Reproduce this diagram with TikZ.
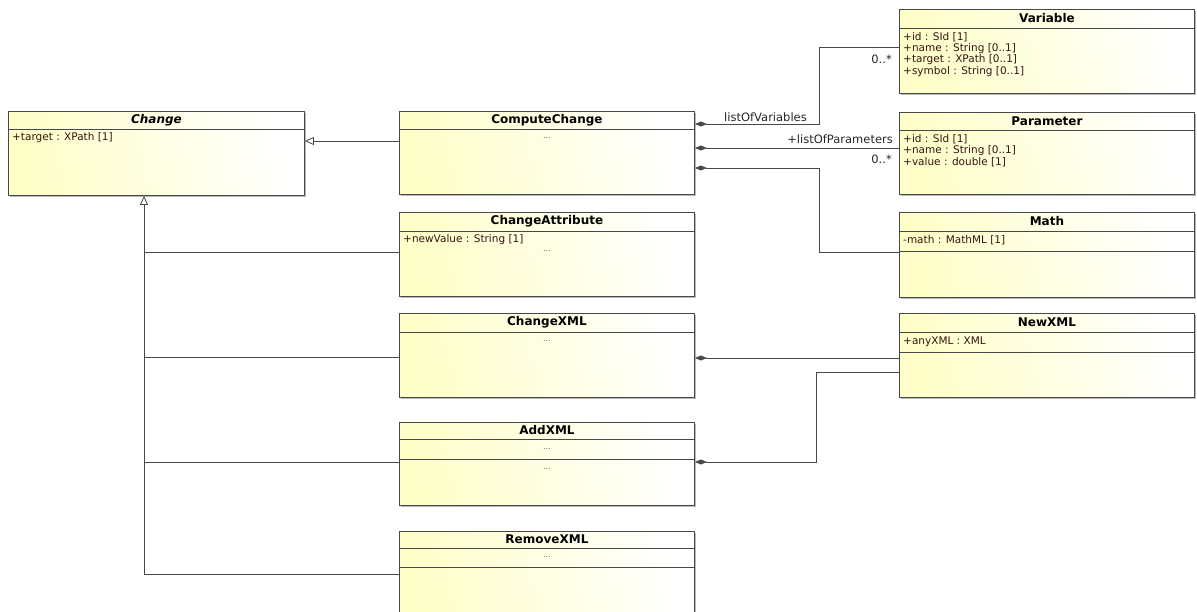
\documentclass[tikz,border=0pt]{standalone}
\usepackage{fontspec}
\setmainfont{DejaVu Sans}
\usetikzlibrary{arrows.meta,shadows,calc}
\definecolor{boxfill}{RGB}{254,254,200}
\definecolor{edgecol}{RGB}{72,72,72}
\definecolor{attrcol}{RGB}{55,20,20}
\tikzset{
  umlbox/.style={draw=edgecol, line width=0.9pt, rectangle, inner sep=0pt, anchor=north west,
    left color=boxfill, right color=white, shading angle=105,
    drop shadow={shadow xshift=2pt, shadow yshift=-2pt, fill=black!50, opacity=0.55}},
  sepline/.style={draw=edgecol, line width=0.8pt},
  titletext/.style={font=\fontsize{12}{13}\selectfont\bfseries, inner sep=0pt},
  attrtext/.style={font=\fontsize{10.5}{11}\selectfont, text=attrcol, anchor=west, inner sep=0pt},
  dotstext/.style={font=\fontsize{8}{8}\selectfont, text=black!60, inner sep=0pt},
  roletext/.style={font=\fontsize{11.5}{12}\selectfont, text=black!85, inner sep=0pt},
  conn/.style={draw=edgecol, line width=0.8pt},
  comp/.style={conn, {Diamond[length=12pt,width=5pt,fill=edgecol]}-},
  gen/.style={conn, -{Triangle[open,length=9pt,width=8pt,fill=white]}}
}
\begin{document}
\begin{tikzpicture}[x=1pt,y=-1pt]
\useasboundingbox (0,0) rectangle (1197,612);
\clip (0,0) rectangle (1197,612);

% ---------- boxes ----------
% Change
\node[umlbox, minimum width=296pt, minimum height=84pt] (chg) at (8,111) {};
\draw[sepline] ($(chg.north west)+(0,18)$) -- ($(chg.north east)+(0,18)$);
\node[titletext, font=\fontsize{12}{13}\selectfont\bfseries\itshape] (chgt) at ($(chg.north)+(0,9)$) {Change};
\node[attrtext] (chga1) at ($(chg.north west)+(4,27)$) {+target : XPath [1]};

% ComputeChange
\node[umlbox, minimum width=295pt, minimum height=83pt] (cc) at (399,111) {};
\draw[sepline] ($(cc.north west)+(0,18)$) -- ($(cc.north east)+(0,18)$);
\node[titletext] (cct) at ($(cc.north)+(0,9)$) {ComputeChange};
\node[dotstext] (ccd) at ($(cc.north)+(0,27)$) {...};

% ChangeAttribute
\node[umlbox, minimum width=295pt, minimum height=84pt] (ca) at (399,212) {};
\draw[sepline] ($(ca.north west)+(0,19)$) -- ($(ca.north east)+(0,19)$);
\node[titletext] (cat) at ($(ca.north)+(0,9.5)$) {ChangeAttribute};
\node[attrtext] (caa1) at ($(ca.north west)+(4,27.5)$) {+newValue : String [1]};
\node[dotstext] (cad) at ($(ca.north)+(0,39)$) {...};

% ChangeXML
\node[umlbox, minimum width=295pt, minimum height=84pt] (cx) at (399,313) {};
\draw[sepline] ($(cx.north west)+(0,19)$) -- ($(cx.north east)+(0,19)$);
\node[titletext] (cxt) at ($(cx.north)+(0,9.5)$) {ChangeXML};
\node[dotstext] (cxd) at ($(cx.north)+(0,28)$) {...};

% AddXML
\node[umlbox, minimum width=295pt, minimum height=83pt] (ax) at (399,422) {};
\draw[sepline] ($(ax.north west)+(0,17)$) -- ($(ax.north east)+(0,17)$);
\draw[sepline] ($(ax.north west)+(0,37)$) -- ($(ax.north east)+(0,37)$);
\node[titletext] (axt) at ($(ax.north)+(0,8.5)$) {AddXML};
\node[dotstext] (axd1) at ($(ax.north)+(0,27)$) {...};
\node[dotstext] (axd2) at ($(ax.north)+(0,47)$) {...};

% RemoveXML
\node[umlbox, minimum width=295pt, minimum height=95pt] (rx) at (399,531) {};
\draw[sepline] ($(rx.north west)+(0,17)$) -- ($(rx.north east)+(0,17)$);
\draw[sepline] ($(rx.north west)+(0,36)$) -- ($(rx.north east)+(0,36)$);
\node[titletext] (rxt) at ($(rx.north)+(0,8.5)$) {RemoveXML};
\node[dotstext] (rxd) at ($(rx.north)+(0,26)$) {...};

% Variable
\node[umlbox, minimum width=295pt, minimum height=84pt] (var) at (899,9) {};
\draw[sepline] ($(var.north west)+(0,19)$) -- ($(var.north east)+(0,19)$);
\node[titletext] (vart) at ($(var.north)+(0,9.5)$) {Variable};
\node[attrtext] (vara1) at ($(var.north west)+(4,28)$) {+id : SId [1]};
\node[attrtext] (vara2) at ($(var.north west)+(4,39.5)$) {+name : String [0..1]};
\node[attrtext] (vara3) at ($(var.north west)+(4,51)$) {+target : XPath [0..1]};
\node[attrtext] (vara4) at ($(var.north west)+(4,62.5)$) {+symbol : String [0..1]};

% Parameter
\node[umlbox, minimum width=295pt, minimum height=82pt] (par) at (899,112) {};
\draw[sepline] ($(par.north west)+(0,18)$) -- ($(par.north east)+(0,18)$);
\node[titletext] (part) at ($(par.north)+(0,9)$) {Parameter};
\node[attrtext] (para1) at ($(par.north west)+(4,27)$) {+id : SId [1]};
\node[attrtext] (para2) at ($(par.north west)+(4,38.5)$) {+name : String [0..1]};
\node[attrtext] (para3) at ($(par.north west)+(4,50)$) {+value : double [1]};

% Math
\node[umlbox, minimum width=295pt, minimum height=85pt] (math) at (899,212) {};
\draw[sepline] ($(math.north west)+(0,19)$) -- ($(math.north east)+(0,19)$);
\draw[sepline] ($(math.north west)+(0,39)$) -- ($(math.north east)+(0,39)$);
\node[titletext] (matht) at ($(math.north)+(0,9.5)$) {Math};
\node[attrtext] (matha1) at ($(math.north west)+(4,28.5)$) {-math : MathML [1]};

% NewXML
\node[umlbox, minimum width=295pt, minimum height=84pt] (nx) at (899,313) {};
\draw[sepline] ($(nx.north west)+(0,19)$) -- ($(nx.north east)+(0,19)$);
\draw[sepline] ($(nx.north west)+(0,39)$) -- ($(nx.north east)+(0,39)$);
\node[titletext] (nxt) at ($(nx.north)+(0,9.5)$) {NewXML};
\node[attrtext] (nxa1) at ($(nx.north west)+(4,28.5)$) {+anyXML : XML};

% ---------- generalizations ----------
\coordinate (trunk) at (144,574);
\draw[gen] ($(cc.north west)+(0,30)$) -- ($(chg.north east)+(0,30)$);
\draw[gen] (trunk) -- (trunk |- chg.south);
\draw[conn] ($(ca.north west)+(0,40)$) -- +(-255,0);
\draw[conn] ($(cx.north west)+(0,44)$) -- +(-255,0);
\draw[conn] ($(ax.north west)+(0,40)$) -- +(-255,0);
\draw[conn] ($(rx.north west)+(0,43)$) -- (trunk);

% ---------- compositions ----------
\draw[comp] ($(cc.north east)+(0,13)$) -- ++(124,0) |- ($(var.north west)+(0,38)$);
\draw[comp] ($(cc.north east)+(0,37)$) -- ($(par.north west)+(0,36)$);
\draw[comp] ($(cc.north east)+(0,57)$) -- ++(124,0) |- ($(math.north west)+(0,40)$);
\draw[comp] ($(cx.north east)+(0,45)$) -- ($(nx.north west)+(0,45)$);
\draw[comp] ($(ax.north east)+(0,40)$) -- ++(121,0) |- ($(nx.north west)+(0,59)$);

% ---------- role labels ----------
\node[roletext] (lv) at (765.5,117.5) {listOfVariables};
\node[roletext, anchor=east] (m1) at (892,59) {0..*};
\node[roletext, anchor=east] (lp) at (893,139.5) {+listOfParameters};
\node[roletext, anchor=east] (m2) at (892,159) {0..*};
\end{tikzpicture}
\end{document}
